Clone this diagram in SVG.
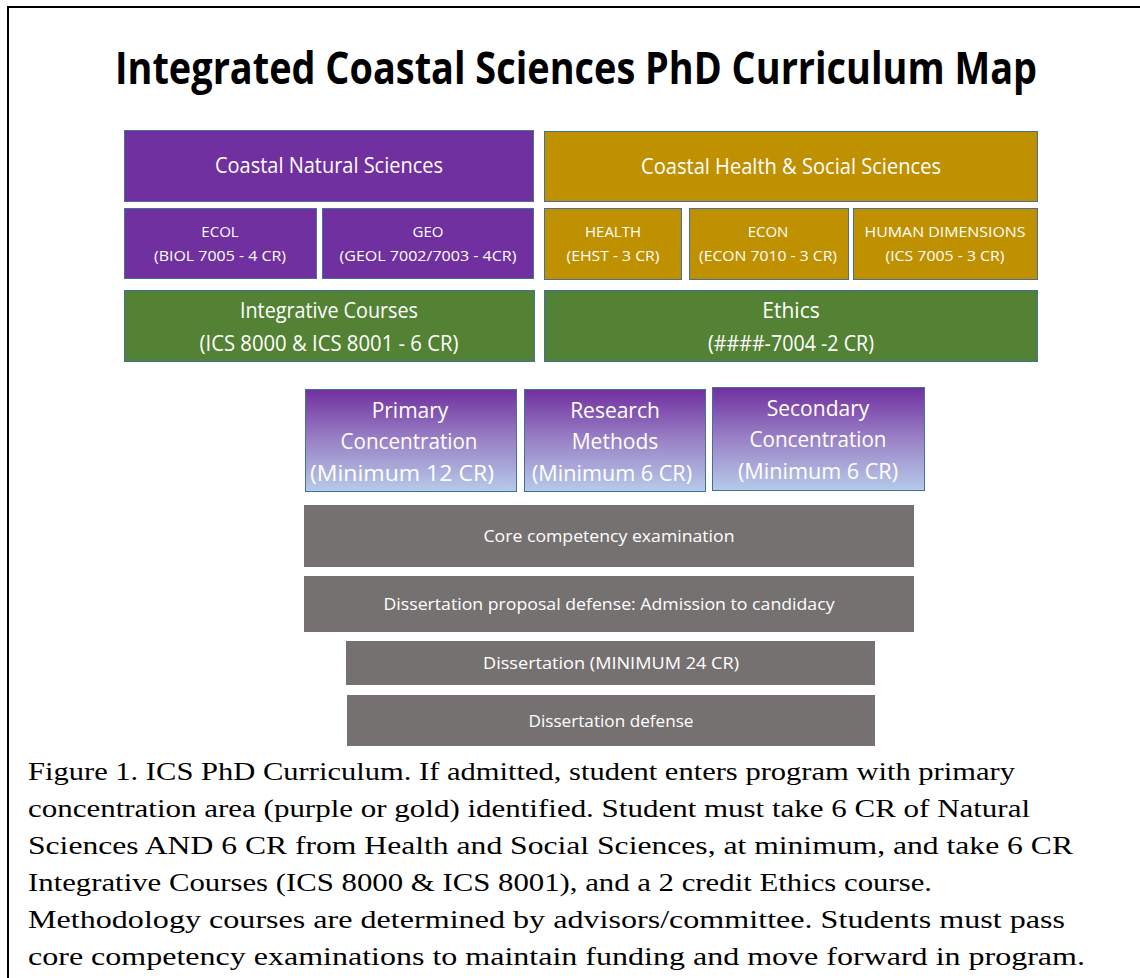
<svg xmlns="http://www.w3.org/2000/svg" width="1140" height="978" viewBox="0 0 1140 978">
<style>
.t{font-family:"Open Sans","Noto Sans",sans-serif;fill:#fff;text-anchor:middle}
.big{font-size:21px}
.sm{font-size:15px}
.gr{font-size:17px}
.pur{fill:#7030A0;stroke:#41719C;stroke-width:1}
.gold{fill:#BF9000;stroke:#41719C;stroke-width:1}
.grn{fill:#548235;stroke:#41719C;stroke-width:1}
.conc{fill:url(#cg);stroke:#41719C;stroke-width:1}
.gray{fill:#767171}
.cap{font-family:'Liberation Serif','Times New Roman',serif;font-size:26px;fill:#000}
</style>
<defs>
<linearGradient id="cg" x1="0" y1="0" x2="0" y2="1">
<stop offset="0" stop-color="#7030A0"/>
<stop offset="0.5" stop-color="#9A82C6"/>
<stop offset="1" stop-color="#B6CBEA"/>
</linearGradient>
</defs>
<rect width="1140" height="978" fill="#fff"/>
<g id="frame">
<line x1="8" y1="7" x2="1140" y2="7" stroke="#000" stroke-width="2"/>
<line x1="8" y1="6" x2="8" y2="978" stroke="#000" stroke-width="2"/>
</g>
<text id="title" x="576" y="84" font-family="'Open Sans','Noto Sans',sans-serif" font-weight="bold" font-size="44" fill="#000" text-anchor="middle" textLength="922" lengthAdjust="spacingAndGlyphs">Integrated Coastal Sciences PhD Curriculum Map</text>

<g id="natural">
<rect class="pur" x="124.5" y="130.5" width="409" height="71"/>
<text class="t big" x="329" y="173" textLength="228" lengthAdjust="spacingAndGlyphs">Coastal Natural Sciences</text>
</g>
<g id="health-social">
<rect class="gold" x="544.5" y="131.5" width="493" height="70"/>
<text class="t big" x="791" y="174" textLength="300" lengthAdjust="spacingAndGlyphs">Coastal Health &amp; Social Sciences</text>
</g>
<g id="ecol">
<rect class="pur" x="124.5" y="208.5" width="192" height="70"/>
<text class="t sm" x="220" y="237">ECOL</text>
<text class="t sm" x="220" y="261" textLength="132" lengthAdjust="spacingAndGlyphs">(BIOL 7005 - 4 CR)</text>
</g>
<g id="geo">
<rect class="pur" x="322.5" y="208.5" width="211" height="70"/>
<text class="t sm" x="428" y="237">GEO</text>
<text class="t sm" x="428" y="261" textLength="177" lengthAdjust="spacingAndGlyphs">(GEOL 7002/7003 - 4CR)</text>
</g>
<g id="health">
<rect class="gold" x="544.5" y="208.5" width="137" height="71"/>
<text class="t sm" x="613" y="237">HEALTH</text>
<text class="t sm" x="613" y="261" textLength="93" lengthAdjust="spacingAndGlyphs">(EHST - 3 CR)</text>
</g>
<g id="econ">
<rect class="gold" x="689.5" y="208.5" width="159" height="71"/>
<text class="t sm" x="768" y="237">ECON</text>
<text class="t sm" x="768" y="261" textLength="138" lengthAdjust="spacingAndGlyphs">(ECON 7010 - 3 CR)</text>
</g>
<g id="human-dimensions">
<rect class="gold" x="853.5" y="208.5" width="184" height="71"/>
<text class="t sm" x="945" y="237" textLength="161" lengthAdjust="spacingAndGlyphs">HUMAN DIMENSIONS</text>
<text class="t sm" x="945" y="261" textLength="119" lengthAdjust="spacingAndGlyphs">(ICS 7005 - 3 CR)</text>
</g>
<g id="integrative">
<rect class="grn" x="124.5" y="290.5" width="410" height="71"/>
<text class="t big" x="329" y="318" textLength="178" lengthAdjust="spacingAndGlyphs">Integrative Courses</text>
<text class="t big" x="329" y="351" textLength="259" lengthAdjust="spacingAndGlyphs">(ICS 8000 &amp; ICS 8001 - 6 CR)</text>
</g>
<g id="ethics">
<rect class="grn" x="544.5" y="290.5" width="493" height="71"/>
<text class="t big" x="791" y="318">Ethics</text>
<text class="t big" x="791" y="351" textLength="166" lengthAdjust="spacingAndGlyphs">(####-7004 -2 CR)</text>
</g>
<g id="primary">
<rect class="conc" x="305.5" y="389.5" width="211" height="102"/>
<text class="t big" x="410" y="418">Primary</text>
<text class="t big" x="409" y="449" textLength="137" lengthAdjust="spacingAndGlyphs">Concentration</text>
<text class="t big" x="402" y="481" textLength="184" lengthAdjust="spacingAndGlyphs">(Minimum 12 CR)</text>
</g>
<g id="research">
<rect class="conc" x="524.5" y="389.5" width="181" height="102"/>
<text class="t big" x="615" y="418">Research</text>
<text class="t big" x="615" y="449">Methods</text>
<text class="t big" x="612" y="481" textLength="160" lengthAdjust="spacingAndGlyphs">(Minimum 6 CR)</text>
</g>
<g id="secondary">
<rect class="conc" x="712.5" y="387.5" width="212" height="103"/>
<text class="t big" x="818" y="416">Secondary</text>
<text class="t big" x="818" y="447" textLength="137" lengthAdjust="spacingAndGlyphs">Concentration</text>
<text class="t big" x="818" y="479" textLength="160" lengthAdjust="spacingAndGlyphs">(Minimum 6 CR)</text>
</g>
<g id="core-exam">
<rect class="gray" x="304" y="505" width="610" height="62"/>
<text class="t gr" x="609" y="542" textLength="251" lengthAdjust="spacingAndGlyphs">Core competency examination</text>
</g>
<g id="proposal">
<rect class="gray" x="304" y="576" width="610" height="56"/>
<text class="t gr" x="609" y="610" textLength="451" lengthAdjust="spacingAndGlyphs">Dissertation proposal defense: Admission to candidacy</text>
</g>
<g id="dissertation">
<rect class="gray" x="346" y="641" width="529" height="44"/>
<text class="t gr" x="611" y="669" textLength="256" lengthAdjust="spacingAndGlyphs">Dissertation (MINIMUM 24 CR)</text>
</g>
<g id="defense">
<rect class="gray" x="347" y="695" width="528" height="51"/>
<text class="t gr" x="611" y="727" textLength="165" lengthAdjust="spacingAndGlyphs">Dissertation defense</text>
</g>
<g id="connectors"></g>
<g id="caption">
<text class="cap" x="28" y="780" textLength="987" lengthAdjust="spacingAndGlyphs">Figure 1. ICS PhD Curriculum. If admitted, student enters program with primary</text>
<text class="cap" x="28" y="817" textLength="1002" lengthAdjust="spacingAndGlyphs">concentration area (purple or gold) identified. Student must take 6 CR of Natural</text>
<text class="cap" x="28" y="854" textLength="1045" lengthAdjust="spacingAndGlyphs">Sciences AND 6 CR from Health and Social Sciences, at minimum, and take 6 CR</text>
<text class="cap" x="28" y="891" textLength="904" lengthAdjust="spacingAndGlyphs">Integrative Courses (ICS 8000 &amp; ICS 8001), and a 2 credit Ethics course.</text>
<text class="cap" x="28" y="928" textLength="1037" lengthAdjust="spacingAndGlyphs">Methodology courses are determined by advisors/committee. Students must pass</text>
<text class="cap" x="28" y="965" textLength="1057" lengthAdjust="spacingAndGlyphs">core competency examinations to maintain funding and move forward in program.</text>
</g>
</svg>
